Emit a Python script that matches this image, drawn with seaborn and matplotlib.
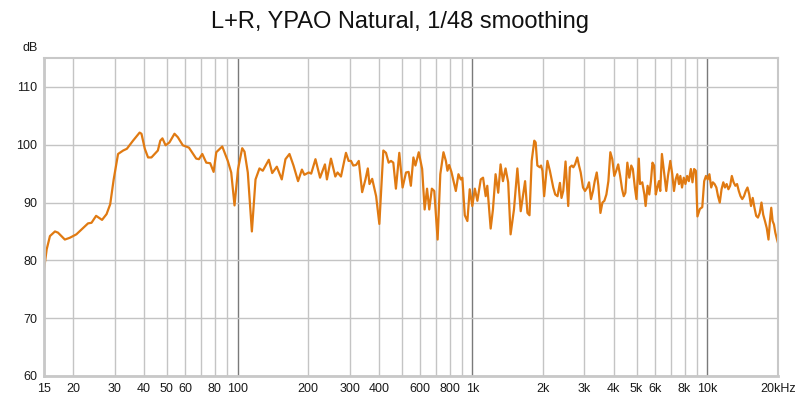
import matplotlib
matplotlib.use("Agg")
import matplotlib.pyplot as plt
import matplotlib.ticker as mticker
import numpy as np
import pandas as pd
import seaborn as sns

# ---- data ----
freq_hz = [
    15.0, 15.4, 15.9, 16.7, 17.2, 18.4, 19.3, 20.6, 22.0, 23.1, 23.9, 25.0, 26.5, 27.7, 28.7, 29.7,
    31.0, 32.6, 33.8, 35.9, 38.3, 39.0, 40.3, 41.6, 43.0, 45.8, 46.9, 47.9, 49.4, 51.3, 53.9, 55.7,
    58.5, 62.1, 66.7, 68.5, 70.8, 73.6, 76.5, 79.1, 81.2, 86.1, 90.9, 94.0, 97.1, 100.5, 104.7, 107.1,
    110.6, 115.1, 119.3, 124.0, 128.1, 135.9, 140.5, 147.0, 154.3, 160.0, 166.4, 173.1, 181.0, 188.0,
    192.6, 201.0, 205.9, 214.7, 224.6, 235.6, 240.2, 249.9, 260.8, 266.6, 275.7, 289.5, 297.1, 304.2,
    311.0, 319.7, 328.3, 339.3, 350.5, 358.7, 364.6, 374.4, 389.1, 401.6, 417.6, 428.6, 439.9, 450.3,
    460.5, 472.4, 488.4, 504.3, 521.6, 535.0, 547.0, 560.8, 572.0, 591.0, 611.0, 626.0, 641.0, 655.0,
    672.0, 688.0, 711.0, 730.0, 753.0, 771.0, 783.0, 796.0, 814.0, 850.0, 872.0, 892.0, 906.0, 928.0,
    952.0, 974.0, 999.0, 1024, 1050, 1085, 1110, 1139, 1157, 1196, 1223, 1255, 1288, 1318, 1349, 1384,
    1420, 1454, 1503, 1554, 1606, 1676, 1715, 1750, 1788, 1834, 1859, 1890, 1936, 1960, 1987, 2020,
    2086, 2137, 2209, 2252, 2303, 2358, 2395, 2436, 2492, 2558, 2600, 2650, 2690, 2735, 2796, 2843,
    2891, 2957, 3016, 3085, 3137, 3198, 3262, 3317, 3383, 3439, 3508, 3577, 3646, 3719, 3792, 3866,
    3941, 4018, 4096, 4175, 4256, 4338, 4408, 4480, 4567, 4655, 4745, 4820, 4916, 4994, 5110, 5170,
    5287, 5397, 5463, 5570, 5663, 5754, 5843, 5937, 6036, 6129, 6225, 6305, 6409, 6537, 6689, 6802,
    6958, 7094, 7213, 7334, 7453, 7577, 7679, 7806, 7940, 8071, 8207, 8345, 8512, 8648, 8788, 8937,
    9080, 9300, 9520, 9700, 9870, 10040, 10210, 10390, 10560, 10740, 10930, 11110, 11300, 11500,
    11700, 11890, 12090, 12300, 12510, 12720, 12940, 13170, 13390, 13620, 13850, 14090, 14330, 14580,
    14830, 15090, 15350, 15610, 15880, 16150, 16430, 16720, 17010, 17300, 17600, 17910, 18220, 18480,
    18720, 18970, 19230, 19480, 19810, 20000,
]
level_db = [
    78.4, 81.9, 84.2, 85.0, 84.8, 83.6, 83.9, 84.5, 85.6, 86.4, 86.5, 87.7, 87.0, 88.0, 89.7, 94.0,
    98.4, 99.0, 99.3, 100.7, 102.1, 101.9, 99.3, 97.8, 97.8, 99.0, 100.7, 101.1, 99.9, 100.4, 101.9, 101.3,
    99.9, 99.5, 97.6, 97.5, 98.4, 96.9, 96.8, 95.3, 98.7, 99.7, 97.2, 95.2, 89.5, 95.8, 99.4, 98.8,
    95.2, 85.0, 94.0, 95.9, 95.5, 97.4, 95.1, 96.2, 94.0, 97.5, 98.4, 96.4, 93.7, 95.7,
    94.8, 95.2, 95.0, 97.5, 94.3, 96.6, 94.0, 97.6, 94.5, 95.2, 94.5, 98.6, 97.2, 97.2,
    96.4, 96.5, 97.2, 91.8, 94.0, 95.9, 93.2, 94.1, 91.1, 86.3, 99.0, 98.6, 96.9, 97.2,
    96.9, 92.4, 98.6, 92.6, 95.2, 95.3, 92.9, 97.8, 96.4, 98.7, 95.8, 88.8, 92.4, 88.8,
    92.4, 92.0, 83.6, 94.9, 98.7, 97.2, 95.5, 96.5, 95.3, 92.0, 94.9, 94.0, 94.3, 87.8,
    86.8, 92.3, 89.4, 92.4, 90.3, 94.0, 94.3, 91.1, 92.9, 85.5, 88.8, 94.9, 91.7, 96.6, 93.7, 95.9,
    93.5, 84.5, 88.8, 95.9, 88.5, 93.7, 88.2, 87.8, 97.2, 100.7, 100.4, 96.4, 96.1, 96.4, 95.5, 91.1,
    97.2, 95.5, 92.6, 91.4, 91.1, 93.4, 90.8, 92.0, 97.1, 89.4, 96.1, 96.4, 96.1, 96.6, 97.8, 96.4,
    95.2, 92.6, 92.0, 92.6, 93.5, 90.6, 92.0, 93.7, 95.2, 92.9, 88.2, 90.0, 90.3, 91.4, 93.7, 98.7,
    97.5, 94.6, 95.5, 96.6, 94.6, 92.3, 91.1, 91.7, 96.9, 94.3, 96.4, 95.8, 92.6, 90.6, 97.6, 93.2,
    93.5, 91.4, 89.4, 92.9, 91.4, 93.7, 96.9, 96.4, 91.4, 92.6, 93.7, 92.0, 98.4, 95.5, 92.0, 94.6,
    97.2, 94.9, 92.0, 94.0, 94.9, 93.2, 94.6, 92.6, 94.3, 93.2, 94.6, 93.7, 95.8, 93.5, 95.8, 95.5,
    87.6, 88.9, 89.2, 93.7, 94.6, 94.0, 94.9, 92.6, 93.5, 93.2, 92.6, 91.1, 90.0, 92.3,
    93.5, 92.6, 93.2, 92.3, 92.9, 94.6, 93.5, 92.9, 93.2, 92.0, 91.1, 90.6, 91.1, 92.0,
    92.6, 91.4, 89.4, 90.8, 89.1, 87.7, 87.4, 88.2, 90.0, 87.9, 86.8, 85.6, 83.6, 86.8,
    89.1, 86.8, 86.2, 84.8, 83.6, 83.0,
]

x_label_ticks = [15, 20, 30, 40, 50, 60, 80, 200, 300, 400, 600, 800,
                 2000, 3000, 4000, 5000, 6000, 8000, 20000]
x_label_texts = ["15", "20", "30", "40", "50", "60", "80", "200", "300", "400", "600", "800",
                 "2k", "3k", "4k", "5k", "6k", "8k", "20kHz"]
x_decades = [100, 1000, 10000]
x_decade_texts = ["100", "1k", "10k"]
x_minor_grid = [20, 30, 40, 50, 60, 70, 80, 90,
                200, 300, 400, 500, 600, 700, 800, 900,
                2000, 3000, 4000, 5000, 6000, 7000, 8000, 9000]
y_ticks = [60, 70, 80, 90, 100, 110]
title = "L+R, YPAO Natural, 1/48 smoothing"

df = pd.DataFrame({"freq": freq_hz, "db": level_db})

sns.set_style("white")
plt.rcParams["font.family"] = ["Liberation Sans", "DejaVu Sans"]

fig = plt.figure(figsize=(8.0, 3.98), dpi=100)
ax = fig.add_axes([44 / 800, 22 / 398, 734 / 800, 318 / 398])

sns.lineplot(data=df, x="freq", y="db", ax=ax, color="#e07a12", linewidth=1.6, sort=True)

ax.set_xscale("log")
ax.set_xlim(15, 20000)
ax.set_ylim(60, 115)

minor_positions = sorted(set(x_minor_grid) | set(x_label_ticks))
label_map = dict(zip(x_label_ticks, x_label_texts))
ax.xaxis.set_major_locator(mticker.FixedLocator(x_decades))
ax.xaxis.set_major_formatter(mticker.FixedFormatter(x_decade_texts))
ax.xaxis.set_minor_locator(mticker.FixedLocator(minor_positions))
ax.xaxis.set_minor_formatter(mticker.FuncFormatter(
    lambda v, p: label_map.get(int(round(v)), "")))
ax.set_yticks(y_ticks)

ax.grid(which="major", axis="x", color="#7a7a7a", linewidth=1.0)
ax.grid(which="minor", axis="x", color="#c4c4c4", linewidth=1.0)
ax.grid(which="major", axis="y", color="#c4c4c4", linewidth=1.0)
ax.set_axisbelow(True)

ax.tick_params(axis="both", which="both", length=0, labelsize=9, colors="#1a1a1a")
ax.tick_params(axis="x", which="both", pad=5)
ax.tick_params(axis="y", pad=5)

for side, sp in ax.spines.items():
    sp.set_visible(True)
    sp.set_color("#c8c8c8")
    sp.set_linewidth(2.0 if side in ("left", "bottom") else 1.5)

ax.set_xlabel("")
ax.set_ylabel("")

fig.text(38 / 800, 1 - 48 / 398, "dB", ha="right", va="center", fontsize=9, color="#1a1a1a")
fig.text(0.5, 1 - 22 / 398, title, ha="center", va="center", fontsize=17, color="#111111")

fig.savefig("out.png", dpi=100)
